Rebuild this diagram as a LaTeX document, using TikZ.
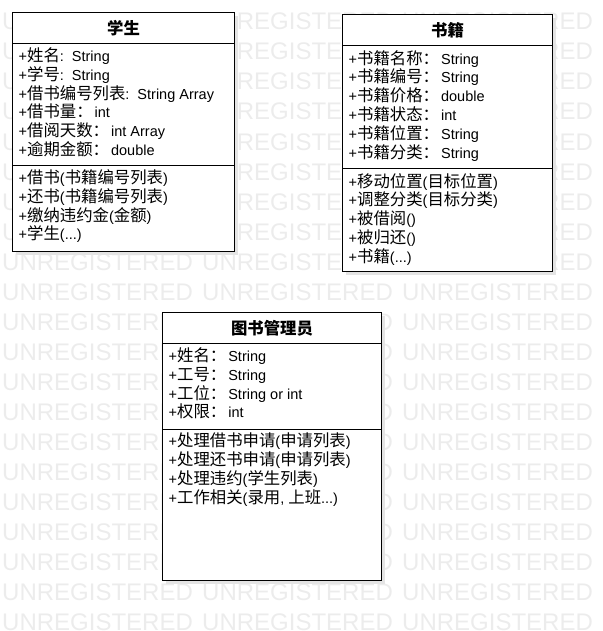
\documentclass[tikz,border=0pt]{standalone}
\usepackage{fontspec}
\setmainfont{Liberation Sans}
\newfontfamily\zhfont[Scale=1.13]{Noto Sans CJK SC}
\newcommand{\zh}[1]{{\zhfont#1}}
\usetikzlibrary{positioning,shadows}
\definecolor{wmgray}{RGB}{236,236,236}
\definecolor{shadowgray}{RGB}{228,228,228}

\begin{document}
\begin{tikzpicture}[x=1pt,y=-1pt,
  boxshadow/.style={drop shadow={shadow xshift=3.5pt,shadow yshift=-3.5pt,fill=shadowgray,opacity=1}},
  classhead/.style={draw=black,line width=1pt,fill=white,outer sep=0pt,inner sep=0pt,boxshadow,
    font=\fontsize{14.5}{17}\selectfont\bfseries},
  classpart/.style={draw=black,line width=1pt,fill=white,outer sep=0pt,inner sep=0pt,boxshadow},
  members/.style={inner sep=0pt,align=left,font=\fontsize{14.5}{18.8}\selectfont},
  wmark/.style={inner sep=0pt,anchor=base west,text=wmgray,font=\fontsize{24}{24}\selectfont}]
  \useasboundingbox (0,0) rectangle (602,631);

  % watermark
  \foreach \row in {1,...,21}
    \foreach \col in {0,1,2,3}
      \node[wmark] at (2+200*\col,30*\row) {UNREGISTERED};

  % student
  \node[classhead,minimum width=222pt,minimum height=31pt,anchor=north west] (stu) at (12.5,12.5) {\zh{学生}};
  \node[classpart,minimum width=222pt,minimum height=122pt,below=0pt of stu] (stuattr) {};
  \node[classpart,minimum width=222pt,minimum height=86pt,below=0pt of stuattr] (stuops) {};
  \node[members,below right=4pt and 6pt of stuattr.north west] (stuattrtext)
    {+\zh{姓名}:\hspace{8pt}String\\+\zh{学号}:\hspace{8pt}String\\+\zh{借书编号列表}:\hspace{8pt}String Array\\
     +\zh{借书量：}\hspace{2pt}int\\+\zh{借阅天数：}\hspace{2pt}int Array\\+\zh{逾期金额：}\hspace{2pt}double};
  \node[members,below right=4pt and 6pt of stuops.north west] (stuopstext)
    {+\zh{借书}(\zh{书籍编号列表})\\+\zh{还书}(\zh{书籍编号列表})\\
     +\zh{缴纳违约金}(\zh{金额})\\+\zh{学生}(...)};

  % book
  \node[classhead,minimum width=210pt,minimum height=31pt,anchor=north west] (book) at (342.5,15) {\zh{书籍}};
  \node[classpart,minimum width=210pt,minimum height=123pt,below=0pt of book] (bookattr) {};
  \node[classpart,minimum width=210pt,minimum height=102pt,below=0pt of bookattr] (bookops) {};
  \node[members,below right=4pt and 6pt of bookattr.north west] (bookattrtext)
    {+\zh{书籍名称：}\hspace{2pt}String\\+\zh{书籍编号：}\hspace{2pt}String\\+\zh{书籍价格：}\hspace{2pt}double\\
     +\zh{书籍状态：}\hspace{2pt}int\\+\zh{书籍位置：}\hspace{2pt}String\\+\zh{书籍分类：}\hspace{2pt}String};
  \node[members,below right=4pt and 6pt of bookops.north west] (bookopstext)
    {+\zh{移动位置}(\zh{目标位置})\\+\zh{调整分类}(\zh{目标分类})\\
     +\zh{被借阅}()\\+\zh{被归还}()\\+\zh{书籍}(...)};

  % librarian
  \node[classhead,minimum width=219pt,minimum height=31pt,anchor=north west] (lib) at (162.5,312.5) {\zh{图书管理员}};
  \node[classpart,minimum width=219pt,minimum height=85.5pt,below=0pt of lib] (libattr) {};
  \node[classpart,minimum width=219pt,minimum height=151.5pt,below=0pt of libattr] (libops) {};
  \node[members,below right=4pt and 6pt of libattr.north west] (libattrtext)
    {+\zh{姓名：}\hspace{2pt}String\\+\zh{工号：}\hspace{2pt}String\\+\zh{工位：}\hspace{2pt}String or int\\+\zh{权限：}\hspace{2pt}int};
  \node[members,below right=4pt and 6pt of libops.north west] (libopstext)
    {+\zh{处理借书申请}(\zh{申请列表})\\+\zh{处理还书申请}(\zh{申请列表})\\
     +\zh{处理违约}(\zh{学生列表})\\+\zh{工作相关}(\zh{录用}, \zh{上班}...)};
\end{tikzpicture}
\end{document}
